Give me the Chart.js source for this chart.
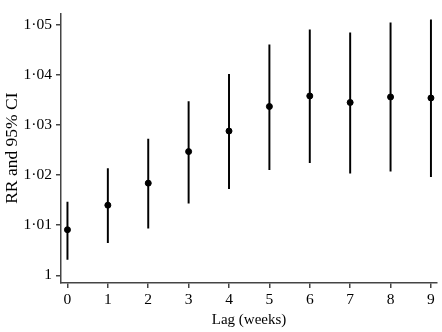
<!DOCTYPE html>
<html>
<head>
<meta charset="utf-8">
<script src="https://cdn.jsdelivr.net/npm/chart.js@4.4.0/dist/chart.umd.min.js"></script>
<style>
  html, body { margin: 0; padding: 0; background: #fff; }
  #wrap { width: 442px; height: 332px; }
</style>
</head>
<body>
<div id="wrap"><canvas id="myChart" width="442" height="332"></canvas></div>
<script>
// lag in weeks and relative risk with 95% CI
const lags = [0, 1, 2, 3, 4, 5, 6, 7, 8, 9];
const rr   = [1.0091, 1.0140, 1.0184, 1.0247, 1.0288, 1.0337, 1.0358, 1.0345, 1.0356, 1.0354];
const ciLo = [1.0032, 1.0065, 1.0094, 1.0144, 1.0173, 1.0211, 1.0225, 1.0204, 1.0208, 1.0197];
const ciHi = [1.0146, 1.0213, 1.0272, 1.0347, 1.0401, 1.0460, 1.0490, 1.0484, 1.0504, 1.0510];
const yTicks = [1, 1.01, 1.02, 1.03, 1.04, 1.05];
const xTicks = [0, 1, 2, 3, 4, 5, 6, 7, 8, 9];

const serif = "'Liberation Serif', 'DejaVu Serif', serif";
const axisColor = '#444';

let barData = lags.map((l, i) => ({x: l, y: [ciLo[i], ciHi[i]]}));
let pointData = lags.map((l, i) => ({x: l, y: rr[i]}));

let ctx = document.getElementById('myChart').getContext('2d');
const myChart = new Chart(ctx, {
    type: 'bar',
    data: {
        datasets: [
            {
                type: 'bar',
                label: '95% CI',
                data: barData,
                backgroundColor: '#000',
                borderWidth: 0,
                barThickness: 1.3,
                grouped: false
            },
            {
                type: 'scatter',
                label: 'RR',
                data: pointData,
                backgroundColor: '#000',
                borderColor: '#000',
                pointRadius: 3,
                showLine: false
            }
        ]
    },
    options: {
        responsive: false,
        animation: false,
        layout: { padding: { top: 2, right: 1, left: 0, bottom: 0 } },
        plugins: { legend: { display: false }, tooltip: { enabled: false } },
        scales: {
            x: {
                type: 'linear',
                offset: false,
                min: -0.16,
                max: 9.15,
                afterFit: (s) => { s.height = 49; },
                afterBuildTicks: (s) => { s.ticks = xTicks.map(v => ({value: v})); },
                grid: { offset: false, drawOnChartArea: false, drawTicks: true, tickLength: 5, color: axisColor, lineWidth: 1.5 },
                border: { color: axisColor, width: 1.5 },
                ticks: { color: '#000', font: { family: serif, size: 15.5 }, padding: 3, maxRotation: 0,
                         callback: (v) => String(v) },
                title: { display: true, text: 'Lag (weeks)', color: '#000',
                         font: { family: serif, size: 15 }, padding: { top: 0, bottom: 3 } }
            },
            y: {
                type: 'linear',
                min: 0.99847,
                max: 1.0523,
                afterFit: (s) => { s.width = 61; },
                afterBuildTicks: (s) => { s.ticks = yTicks.map(v => ({value: v})); },
                grid: { drawOnChartArea: false, drawTicks: true, tickLength: 5, color: axisColor, lineWidth: 1.5 },
                border: { color: axisColor, width: 1.5 },
                ticks: { color: '#000', font: { family: serif, size: 15.5 }, padding: 4,
                         callback: (v) => v === 1 ? '1' : v.toFixed(2).replace('.', '\u00b7') },
                title: { display: true, text: 'RR and 95% CI', color: '#000',
                         font: { family: serif, size: 17.5 }, padding: { top: 2, bottom: 0 } }
            }
        }
    }
});
</script>
</body>
</html>
